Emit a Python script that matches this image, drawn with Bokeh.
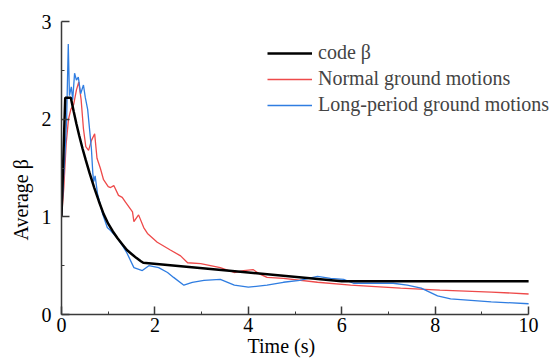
from bokeh.plotting import figure
from bokeh.models import (Range1d, FixedTicker, Legend, LegendItem, Title)
from bokeh.embed import file_html
from bokeh.resources import INLINE

# ---- data ----
code_t = [0, 0.08, 0.2, 0.26, 0.32, 0.38, 0.45, 0.52, 0.6, 0.7, 0.8, 0.9, 1.0, 1.1, 1.2,
          1.3, 1.4, 1.5, 1.6, 1.7, 1.75, 4.0, 6.0, 10.0]
code_v = [1.0, 2.22, 2.22, 2.08, 1.95, 1.83, 1.70, 1.58, 1.45, 1.30, 1.16, 1.03, 0.93, 0.85,
          0.78, 0.72, 0.66, 0.62, 0.58, 0.545, 0.53, 0.43, 0.34, 0.34]

normal_t = [0, 0.05, 0.1, 0.15, 0.2, 0.26, 0.32, 0.37, 0.42, 0.47, 0.52, 0.58, 0.64, 0.71, 0.76,
            0.83, 0.9, 1.0, 1.05, 1.12, 1.22, 1.3, 1.37, 1.52, 1.55, 1.62, 1.65, 1.76, 1.84,
            2.05, 2.33, 2.55, 2.7, 2.98, 3.4, 3.7, 3.9, 4.1, 4.26, 4.4, 4.75, 5.48, 6.19,
            6.9, 7.26, 8.1, 9.2, 10.0]
normal_v = [1.0, 1.3, 1.75, 2.0, 2.1, 2.15, 2.3, 2.38, 2.2, 1.9, 1.72, 1.68, 1.78, 1.85, 1.6,
            1.5, 1.38, 1.31, 1.30, 1.32, 1.22, 1.2, 1.15, 1.05, 0.95, 1.0, 1.02, 0.89, 0.83,
            0.74, 0.66, 0.60, 0.53, 0.52, 0.48, 0.43, 0.45, 0.46, 0.41, 0.38, 0.37, 0.33, 0.30,
            0.28, 0.27, 0.25, 0.23, 0.21]

long_t = [0, 0.04, 0.08, 0.11, 0.145, 0.17, 0.21, 0.24, 0.28, 0.32, 0.36, 0.41, 0.47, 0.51,
          0.56, 0.6, 0.64, 0.67, 0.69, 0.72, 0.77, 0.88, 0.98, 1.05, 1.2, 1.3, 1.4, 1.55,
          1.73, 1.87, 2.08, 2.27, 2.4, 2.62, 2.8, 3.05, 3.4, 3.7, 4.0, 4.4, 4.75, 5.1, 5.48,
          5.76, 6.04, 6.25, 6.55, 7.1, 7.4, 7.7, 8.05, 8.33, 9.2, 10.0]
long_v = [1.0, 1.35, 1.7, 2.0, 2.77, 2.24, 2.33, 2.20, 2.47, 2.40, 2.43, 2.26, 2.35, 2.22,
          2.1, 1.9, 1.7, 1.45, 1.36, 1.42, 1.24, 1.03, 0.89, 0.86, 0.78, 0.71, 0.63, 0.48,
          0.45, 0.50, 0.48, 0.43, 0.38, 0.30, 0.33, 0.35, 0.36, 0.30, 0.28, 0.30, 0.33, 0.35,
          0.39, 0.37, 0.36, 0.32, 0.32, 0.32, 0.30, 0.27, 0.19, 0.16, 0.13, 0.11]

x_ticks = [0, 2, 4, 6, 8, 10]
x_minor = [1, 3, 5, 7, 9]
y_ticks = [0, 1, 2, 3]
y_minor = [0.5, 1.5, 2.5]

series_names = ["code \u03b2", "Normal ground motions", "Long-period ground motions"]
x_title = "Time (s)"
y_title = "Average \u03b2"

FONT = "Liberation Serif"
AX = "#3a3a3a"

p = figure(width=558, height=358, output_backend="svg", toolbar_location=None,
           x_range=Range1d(0, 10.64), y_range=Range1d(0, 3.0),
           min_border_left=61, min_border_right=0, min_border_top=21, min_border_bottom=44)
p.outline_line_color = None
p.xgrid.visible = False
p.ygrid.visible = False
p.background_fill_color = "white"

r_code = p.line(code_t, code_v, line_color="black", line_width=2.5)
r_norm = p.line(normal_t, normal_v, line_color="#EE4A4A", line_width=1.3)
r_long = p.line(long_t, long_v, line_color="#2F7DE1", line_width=1.3)
p.renderers = [r_norm, r_long, r_code]

for ax, ticks, minor, bounds in ((p.xaxis[0], x_ticks, x_minor, (0, 10)),
                                 (p.yaxis[0], y_ticks, y_minor, (0, 3))):
    ax.ticker = FixedTicker(ticks=ticks, minor_ticks=minor)
    ax.bounds = bounds
    ax.axis_line_color = AX
    ax.axis_line_width = 1.5
    ax.major_tick_line_color = AX
    ax.major_tick_line_width = 1.5
    ax.minor_tick_line_color = AX
    ax.minor_tick_line_width = 1
    ax.major_tick_in = 8
    ax.major_tick_out = 0
    ax.minor_tick_in = 3
    ax.minor_tick_out = 0
    ax.major_label_text_font = FONT
    ax.major_label_text_font_size = "20px"
    ax.major_label_text_color = "black"

p.xaxis[0].major_label_standoff = 3
p.yaxis[0].major_label_standoff = 10

# axis titles placed as in the reference (offset from the frame's left / bottom)
p.add_layout(Title(text=x_title, align="left", offset=186, standoff=-4,
                   text_font=FONT, text_font_size="20px", text_font_style="normal",
                   text_color="black"), "below")
p.add_layout(Title(text=y_title, align="left", offset=74, standoff=14,
                   text_font=FONT, text_font_size="20px", text_font_style="normal",
                   text_color="black"), "left")

legend = Legend(items=[LegendItem(label=series_names[0], renderers=[r_code]),
                       LegendItem(label=series_names[1], renderers=[r_norm]),
                       LegendItem(label=series_names[2], renderers=[r_long])],
                location=(206, 198), padding=0, margin=0, spacing=3,
                glyph_width=45, glyph_height=20, label_height=20, label_standoff=6,
                label_text_font=FONT, label_text_font_size="20px",
                border_line_color=None, background_fill_alpha=0)
p.add_layout(legend, "center")

open("out.html", "w").write(file_html(p, INLINE))
